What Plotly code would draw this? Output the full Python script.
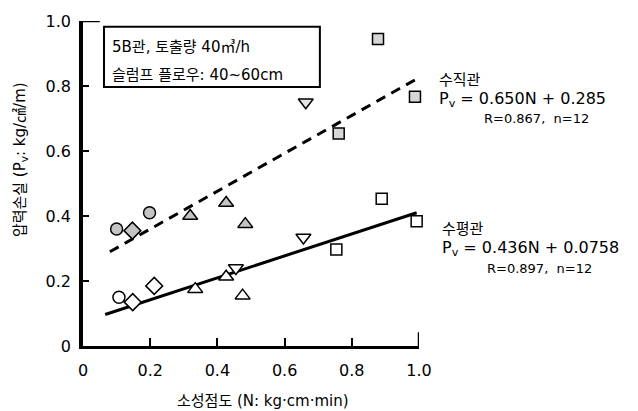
import plotly.graph_objects as go

# Vertical pipe (shaded markers), grouped by marker symbol
vert_circle_x = [0.100, 0.198]
vert_circle_y = [0.360, 0.410]
vert_diamond_x = [0.147]
vert_diamond_y = [0.355]
vert_tri_up_x = [0.319, 0.426, 0.483]
vert_tri_up_y = [0.400, 0.440, 0.375]
vert_tri_down_x = [0.663]
vert_tri_down_y = [0.750]
vert_square_x = [0.761, 0.878, 0.988]
vert_square_y = [0.654, 0.945, 0.767]

# Horizontal pipe (open markers)
horz_circle_x = [0.107]
horz_circle_y = [0.150]
horz_diamond_x = [0.148, 0.212]
horz_diamond_y = [0.135, 0.185]
horz_tri_up_x = [0.334, 0.426, 0.475]
horz_tri_up_y = [0.175, 0.213, 0.155]
horz_tri_down_x = [0.455, 0.656]
horz_tri_down_y = [0.240, 0.334]
horz_square_x = [0.754, 0.889, 0.993]
horz_square_y = [0.297, 0.453, 0.384]

# Fitted lines as drawn
vert_fit_x = [0.080, 0.990]
vert_fit_y = [0.290, 0.820]
horz_fit_x = [0.066, 0.993]
horz_fit_y = [0.097, 0.410]

tick_vals = [0, 0.2, 0.4, 0.6, 0.8, 1.0]
tick_text = ["0", "0.2", "0.4", "0.6", "0.8", "1.0"]

FONT = "DejaVu Sans, Noto Sans CJK KR"
SHADE = "#c4c4c4"

fig = go.Figure()

# regression lines
fig.add_trace(go.Scatter(x=vert_fit_x, y=vert_fit_y, mode="lines",
                         line=dict(color="black", width=3, dash="10px,7px"),
                         showlegend=False, hoverinfo="skip"))
fig.add_trace(go.Scatter(x=horz_fit_x, y=horz_fit_y, mode="lines",
                         line=dict(color="black", width=3),
                         showlegend=False, hoverinfo="skip"))

groups = [
    (vert_circle_x, vert_circle_y, "circle", 12, SHADE),
    (vert_diamond_x, vert_diamond_y, "diamond", 13, SHADE),
    (vert_tri_up_x, vert_tri_up_y, "triangle-up", 13, SHADE),
    (vert_tri_down_x, vert_tri_down_y, "triangle-down", 13, "#e4e4e4"),
    (vert_square_x, vert_square_y, "square", 11, "#d6d6d6"),
    (horz_circle_x, horz_circle_y, "circle", 12, "white"),
    (horz_diamond_x, horz_diamond_y, "diamond", 13, "white"),
    (horz_tri_up_x, horz_tri_up_y, "triangle-up", 13, "white"),
    (horz_tri_down_x, horz_tri_down_y, "triangle-down", 13, "white"),
    (horz_square_x, horz_square_y, "square", 11, "white"),
]
for gx, gy, sym, size, fill in groups:
    fig.add_trace(go.Scatter(
        x=gx, y=gy, mode="markers", cliponaxis=False, showlegend=False,
        marker=dict(symbol=sym, size=size, color=fill,
                    line=dict(color="black", width=1.5)),
    ))

shapes = [
    # long tick at the top of the y axis
    dict(type="line", xref="x", yref="y", x0=0, x1=0.05, y0=1.0, y1=1.0,
         line=dict(color="black", width=2.5)),
    # end tick at the right of the x axis
    dict(type="line", xref="x", yref="y", x0=1.0, x1=1.0, y0=0, y1=0.042,
         line=dict(color="black", width=2.5)),
    # condition box
    dict(type="rect", xref="x", yref="y", x0=0.0625, x1=0.705, y0=0.797, y1=0.982,
         line=dict(color="black", width=2), fillcolor="white", layer="below"),
]

# the plot domain spans the 0..1 axis ranges, so paper coordinates
# line up with data units (and may go beyond them for outside text)
ann = [
    (0.08, 0.92, "5B관, 토출량 40㎥/h", 15),
    (0.08, 0.834, "슬럼프 플로우: 40~60cm", 15),
    (1.054, 0.818, "수직관", 15),
    (1.054, 0.760, "P<sub>v</sub> = 0.650N + 0.285", 16),
    (1.1875, 0.7015, "R=0.867,  n=12", 13),
    (1.0625, 0.360, "수평관", 15),
    (1.0625, 0.3015, "P<sub>v</sub> = 0.436N + 0.0758", 16),
    (1.196, 0.237, "R=0.897,  n=12", 13),
]
annotations = []
for ax_, ay_, txt, fs in ann:
    annotations.append(dict(xref="paper", yref="paper", x=ax_, y=ay_, text=txt,
                            showarrow=False, xanchor="left", yanchor="middle",
                            font=dict(family=FONT, color="black", size=fs)))
# axis titles
annotations.append(dict(xref="paper", yref="paper", x=0.536, y=-0.169,
                        text="소성점도 (N: kg·cm·min)", showarrow=False,
                        xanchor="center", yanchor="middle",
                        font=dict(family=FONT, size=15, color="black")))
annotations.append(dict(xref="paper", yref="paper", x=-0.1875, y=0.572,
                        text="압력손실 (P<sub>v</sub>: kg/㎠/m)", showarrow=False,
                        textangle=-90, xanchor="center", yanchor="middle",
                        font=dict(family=FONT, size=15, color="black")))

fig.update_layout(
    width=638, height=411,
    margin=dict(l=83, r=219, t=21, b=65),
    plot_bgcolor="white", paper_bgcolor="white",
    font=dict(family=FONT, color="black"),
    shapes=shapes, annotations=annotations,
    xaxis=dict(range=[0, 1.0], showgrid=False, zeroline=False,
               showline=True, linecolor="black", linewidth=2.5,
               ticks="inside", ticklen=8, tickwidth=1.5, tickcolor="black",
               tickvals=tick_vals, ticktext=tick_text,
               tickfont=dict(size=16, family=FONT), ticklabelstandoff=8),
    yaxis=dict(range=[0, 1.0], showgrid=False, zeroline=False,
               showline=True, linecolor="black", linewidth=3.5,
               ticks="inside", ticklen=6, tickwidth=1.5, tickcolor="black",
               tickvals=tick_vals, ticktext=tick_text,
               tickfont=dict(size=16, family=FONT), ticklabelstandoff=5),
)

fig.write_html("out.html")
